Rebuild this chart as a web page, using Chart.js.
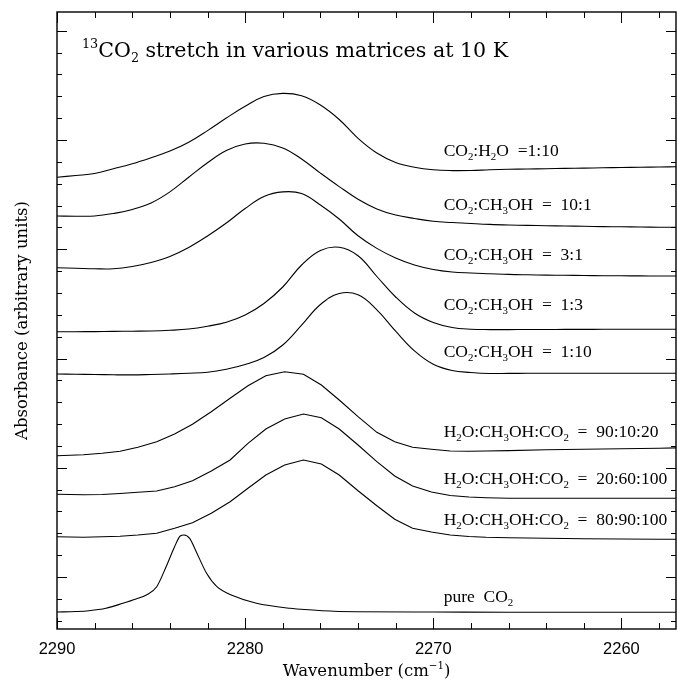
<!DOCTYPE html>
<html>
<head>
<meta charset="utf-8">
<title>13CO2 stretch in various matrices at 10 K</title>
<script src="https://cdn.jsdelivr.net/npm/chart.js@4.4.1/dist/chart.umd.min.js"></script>
<style>
  html, body { margin: 0; padding: 0; background: #fff; }
  canvas { display: block; }
</style>
</head>
<body>
<canvas id="grafico" width="677" height="681"></canvas>
<script>
// Wavenumber grids (cm-1)
const wavenumbers = [2290, 2289, 2288, 2287, 2286, 2285, 2284, 2283, 2282, 2281, 2280, 2279, 2278, 2277, 2276, 2275, 2274,
  2273, 2272, 2271, 2270, 2269, 2268, 2267, 2266, 2265, 2264, 2263, 2262, 2261, 2260, 2259, 2258, 2257];
const mixWavenumbers = [2290, 2288.6, 2287.6, 2286.65, 2285.7, 2284.7, 2283.75, 2282.8, 2281.8, 2280.8, 2279.85, 2278.9,
  2277.9, 2276.9, 2275.95, 2275, 2274, 2273, 2272.05, 2271.1, 2270.1, 2269.1, 2268.1, 2267.2, 2266, 2264, 2262, 2260, 2258, 2257];
const pureWavenumbers = [2290, 2289, 2288.3, 2287.4, 2286.5, 2285.8, 2285.25, 2284.7, 2284.2, 2283.75, 2283.45, 2283.25,
  2282.95, 2282.6, 2282.05, 2281.5, 2280.6, 2279.4, 2277.6, 2275.9, 2274.1, 2270, 2266, 2262, 2257];

// Absorbance (arbitrary units, spectra offset)
const h2o_1_10 = [4.517, 4.535, 4.555, 4.603, 4.653, 4.713, 4.779, 4.868, 4.984, 5.11, 5.227, 5.325, 5.356, 5.332, 5.24, 5.095,
  4.907, 4.76, 4.665, 4.617, 4.592, 4.584, 4.585, 4.592, 4.597, 4.60, 4.603, 4.606, 4.609, 4.612, 4.615, 4.618, 4.62, 4.623];
const meoh_10_1 = [4.13, 4.128, 4.13, 4.155, 4.195, 4.26, 4.371, 4.518, 4.663, 4.785, 4.85, 4.857, 4.81, 4.70, 4.559, 4.424,
  4.298, 4.201, 4.14, 4.105, 4.077, 4.065, 4.055, 4.046, 4.04, 4.036, 4.033, 4.03, 4.027, 4.024, 4.022, 4.02, 4.018, 4.017];
const meoh_3_1 = [3.613, 3.608, 3.602, 3.602, 3.625, 3.665, 3.725, 3.815, 3.93, 4.06, 4.205, 4.325, 4.371, 4.355, 4.24, 4.10,
  3.932, 3.806, 3.71, 3.64, 3.595, 3.57, 3.56, 3.553, 3.546, 3.542, 3.539, 3.537, 3.535, 3.533, 3.532, 3.531, 3.53, 3.53];
const meoh_1_3 = [2.973, 2.973, 2.974, 2.976, 2.978, 2.98, 2.987, 3.00, 3.028, 3.067, 3.14, 3.255, 3.42, 3.64, 3.785, 3.817,
  3.732, 3.525, 3.32, 3.16, 3.065, 3.015, 2.998, 2.994, 2.994, 2.995, 2.995, 2.996, 2.996, 2.997, 2.997, 2.997, 2.997, 2.997];
const meoh_1_10 = [2.55, 2.548, 2.545, 2.542, 2.541, 2.545, 2.55, 2.557, 2.568, 2.598, 2.645, 2.715, 2.84, 3.038, 3.245, 3.355,
  3.342, 3.192, 2.978, 2.781, 2.647, 2.585, 2.565, 2.555, 2.556, 2.557, 2.557, 2.557, 2.557, 2.557, 2.557, 2.557, 2.557, 2.557];
const mix_90_10_20 = [1.733, 1.743, 1.757, 1.778, 1.817, 1.873, 1.95, 2.047, 2.173, 2.307, 2.433, 2.533, 2.573, 2.547, 2.44,
  2.29, 2.123, 1.967, 1.873, 1.817, 1.797, 1.78, 1.778, 1.78, 1.784, 1.792, 1.798, 1.803, 1.808, 1.812];
const mix_20_60_100 = [1.347, 1.342, 1.345, 1.355, 1.367, 1.38, 1.423, 1.483, 1.58, 1.69, 1.857, 2.00, 2.10, 2.15, 2.113,
  2.00, 1.84, 1.673, 1.53, 1.43, 1.37, 1.335, 1.32, 1.313, 1.308, 1.307, 1.307, 1.307, 1.307, 1.307];
const mix_80_90_100 = [0.923, 0.918, 0.922, 0.928, 0.94, 0.957, 1.007, 1.063, 1.157, 1.273, 1.407, 1.54, 1.64, 1.69, 1.65,
  1.54, 1.383, 1.233, 1.097, 1.007, 0.97, 0.94, 0.925, 0.917, 0.912, 0.907, 0.903, 0.90, 0.898, 0.897];
const pureCO2 = [0.17, 0.175, 0.183, 0.207, 0.257, 0.30, 0.34, 0.423, 0.623, 0.823, 0.93, 0.94, 0.907, 0.773, 0.557, 0.423,
  0.33, 0.257, 0.207, 0.183, 0.173, 0.17, 0.167, 0.167, 0.167];

// Curve labels (_x = subscript, ^{..} = superscript)
const curveLabels = ['CO_2:H_2O  =1:10', 'CO_2:CH_3OH  =  10:1', 'CO_2:CH_3OH  =  3:1', 'CO_2:CH_3OH  =  1:3',
  'CO_2:CH_3OH  =  1:10', 'H_2O:CH_3OH:CO_2  =  90:10:20', 'H_2O:CH_3OH:CO_2  =  20:60:100',
  'H_2O:CH_3OH:CO_2  =  80:90:100', 'pure  CO_2'];
const labelWavenumber = 2269.45;
const labelLevels = [4.73, 4.19, 3.69, 3.19, 2.723, 1.917, 1.45, 1.04, 0.273];

const titleText = '^{13}CO_2 stretch in various matrices at 10 K';
const xTitle = 'Wavenumber (cm^{\u22121})';
const yTitle = 'Absorbance (arbitrary units)';

const xRange = [2257.1, 2290];
const xMinorStep = 2;
const xMajorStep = 10;
const yRange = [0, 6.17];
const yTickStep = 0.2185;
const yTickAnchor = 0.52;

const serif = '"DejaVu Serif", serif';
const labelSerif = '"Liberation Serif", serif';
const sans = '"Liberation Sans", Arial, sans-serif';

// monta {x, y} a partir dos arrays
function toPoints(xs, ys) {
  return xs.map((w, i) => ({ x: w, y: ys[i] }));
}

function parseRich(str) {
  const parts = [];
  const re = /([_^])\{([^}]*)\}|([_^])(.)/g;
  let last = 0, m;
  while ((m = re.exec(str))) {
    if (m.index > last) parts.push({ t: str.slice(last, m.index), k: 0 });
    const mark = m[1] || m[3];
    parts.push({ t: m[2] !== undefined ? m[2] : m[4], k: mark === '_' ? 1 : -1 });
    last = re.lastIndex;
  }
  if (last < str.length) parts.push({ t: str.slice(last), k: 0 });
  return parts;
}

function drawRich(ctx, str, x, y, size, family, center) {
  const parts = parseRich(str);
  const fontOf = p => (p.k ? size * 0.62 : size) + 'px ' + family;
  let total = 0;
  parts.forEach(p => { ctx.font = fontOf(p); p.w = ctx.measureText(p.t).width; total += p.w; });
  let cx = center ? x - total / 2 : x;
  ctx.textAlign = 'left';
  ctx.textBaseline = 'alphabetic';
  parts.forEach(p => {
    ctx.font = fontOf(p);
    const dy = p.k === 1 ? size * 0.22 : (p.k === -1 ? -size * 0.45 : 0);
    ctx.fillText(p.t, cx, y + dy);
    cx += p.w;
  });
}

// moldura com ticks internos nos quatro lados + textos
const frameTicks = {
  id: 'frameTicks',
  afterDraw(chart) {
    const { ctx, chartArea: a, scales: { x, y } } = chart;
    ctx.save();
    ctx.strokeStyle = '#000';
    ctx.fillStyle = '#000';

    ctx.lineWidth = 1;
    ctx.beginPath();
    for (let w = Math.ceil(x.min / xMinorStep) * xMinorStep; w <= x.max; w += xMinorStep) {
      const px = Math.round(x.getPixelForValue(w)) + 0.5;
      const len = w % xMajorStep === 0 ? 11 : 6;
      ctx.moveTo(px, a.bottom); ctx.lineTo(px, a.bottom - len);
      ctx.moveTo(px, a.top); ctx.lineTo(px, a.top + len);
    }
    const first = Math.ceil((y.min - yTickAnchor) / yTickStep);
    const lastI = Math.floor((y.max - yTickAnchor) / yTickStep);
    for (let i = first; i <= lastI; i++) {
      const py = Math.round(y.getPixelForValue(yTickAnchor + i * yTickStep)) + 0.5;
      const len = i % 5 === 0 ? 10 : 5;
      ctx.moveTo(a.left, py); ctx.lineTo(a.left + len, py);
      ctx.moveTo(a.right, py); ctx.lineTo(a.right - len, py);
    }
    ctx.stroke();

    ctx.lineWidth = 1.4;
    ctx.strokeRect(a.left, a.top, a.right - a.left, a.bottom - a.top);

    // rótulos do eixo x
    ctx.font = '16.5px ' + sans;
    ctx.textAlign = 'center';
    ctx.textBaseline = 'middle';
    for (let w = Math.ceil(x.min / xMajorStep) * xMajorStep; w <= x.max; w += xMajorStep) {
      ctx.fillText(String(w), x.getPixelForValue(w), a.bottom + 20);
    }

    drawRich(ctx, titleText, a.left + 25, a.top + 45, 20.6, serif, false);

    curveLabels.forEach((txt, i) => {
      drawRich(ctx, txt, x.getPixelForValue(labelWavenumber), y.getPixelForValue(labelLevels[i]), 17.5, labelSerif, false);
    });

    drawRich(ctx, xTitle, (a.left + a.right) / 2, 676, 16.5, serif, true);

    ctx.translate(27, (a.top + a.bottom) / 2);
    ctx.rotate(-Math.PI / 2);
    drawRich(ctx, yTitle, 0, 0, 16.5, serif, true);
    ctx.restore();
  }
};

const smooth = { borderColor: '#000', borderWidth: 1.1, pointRadius: 0, fill: false, tension: 0.4 };
const straight = { borderColor: '#000', borderWidth: 1.1, pointRadius: 0, fill: false, tension: 0 };

const chart = new Chart(document.getElementById('grafico'), {
  type: 'line',
  data: {
    datasets: [
      { label: 'CO2:H2O 1:10', data: toPoints(wavenumbers, h2o_1_10), ...smooth },
      { label: 'CO2:CH3OH 10:1', data: toPoints(wavenumbers, meoh_10_1), ...smooth },
      { label: 'CO2:CH3OH 3:1', data: toPoints(wavenumbers, meoh_3_1), ...smooth },
      { label: 'CO2:CH3OH 1:3', data: toPoints(wavenumbers, meoh_1_3), ...smooth },
      { label: 'CO2:CH3OH 1:10', data: toPoints(wavenumbers, meoh_1_10), ...smooth },
      { label: 'H2O:CH3OH:CO2 90:10:20', data: toPoints(mixWavenumbers, mix_90_10_20), ...straight },
      { label: 'H2O:CH3OH:CO2 20:60:100', data: toPoints(mixWavenumbers, mix_20_60_100), ...straight },
      { label: 'H2O:CH3OH:CO2 80:90:100', data: toPoints(mixWavenumbers, mix_80_90_100), ...straight },
      { label: 'pure CO2', data: toPoints(pureWavenumbers, pureCO2), ...smooth, cubicInterpolationMode: 'monotone' }
    ]
  },
  options: {
    responsive: false,
    animation: false,
    events: [],
    layout: { padding: { top: 12, right: 1, left: 0, bottom: 0 } },
    plugins: { legend: { display: false }, tooltip: { enabled: false } },
    scales: {
      x: {
        type: 'linear',
        reverse: true,
        min: xRange[0],
        max: xRange[1],
        afterFit: s => { s.height = 52; },
        grid: { display: false, drawTicks: false },
        border: { display: false },
        ticks: { display: false }
      },
      y: {
        type: 'linear',
        min: yRange[0],
        max: yRange[1],
        afterFit: s => { s.width = 57; },
        grid: { display: false, drawTicks: false },
        border: { display: false },
        ticks: { display: false }
      }
    }
  },
  plugins: [frameTicks]
});
</script>
</body>
</html>
